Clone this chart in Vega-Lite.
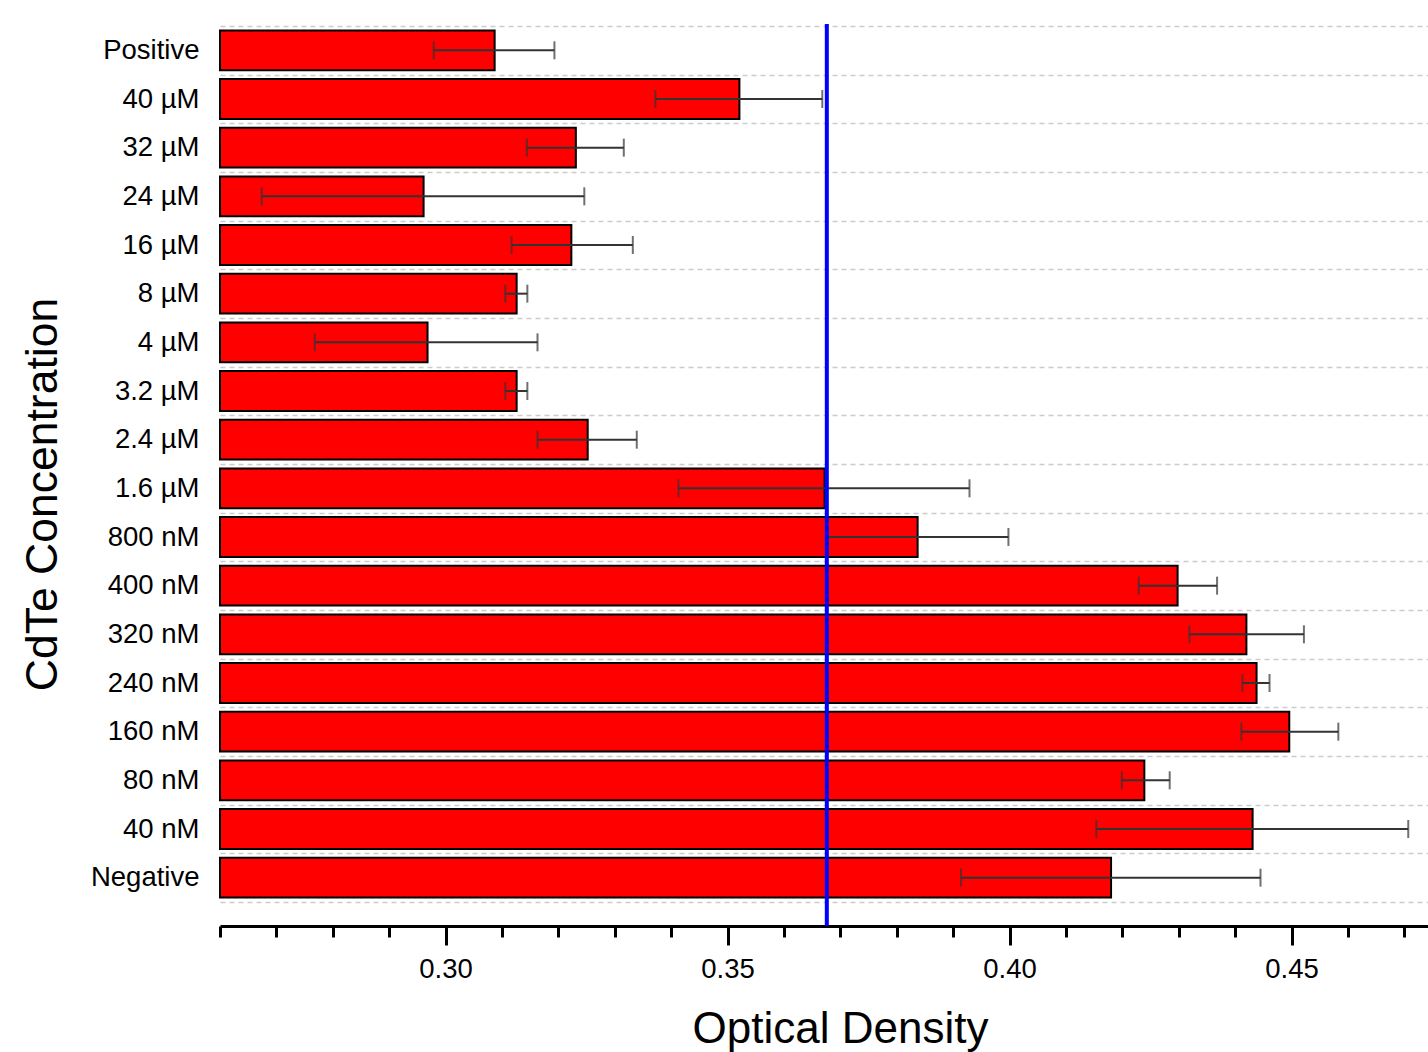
{
  "$schema": "https://vega.github.io/schema/vega-lite/v6.json",
  "autosize": "none",
  "width": 1208,
  "height": 902,
  "padding": {"left": 220, "top": 24, "right": 0, "bottom": 126},
  "background": "white",
  "config": {
    "view": {"stroke": null},
    "font": "Liberation Sans",
    "axis": {"labelFont": "Liberation Sans", "titleFont": "Liberation Sans", "labelColor": "#000000", "titleColor": "#000000", "titleFontWeight": "normal"}
  },
  "datasets": {
    "bars": [
      {"cat": "Positive", "od": 0.3087, "lo": 0.2979, "hi": 0.3193},
      {"cat": "40 µM", "od": 0.3521, "lo": 0.3372, "hi": 0.3668},
      {"cat": "32 µM", "od": 0.3231, "lo": 0.3144, "hi": 0.3316},
      {"cat": "24 µM", "od": 0.2961, "lo": 0.2674, "hi": 0.3246},
      {"cat": "16 µM", "od": 0.3223, "lo": 0.3117, "hi": 0.3332},
      {"cat": "8 µM", "od": 0.3126, "lo": 0.3106, "hi": 0.3145},
      {"cat": "4 µM", "od": 0.2968, "lo": 0.2768, "hi": 0.3163},
      {"cat": "3.2 µM", "od": 0.3126, "lo": 0.3106, "hi": 0.3145},
      {"cat": "2.4 µM", "od": 0.3252, "lo": 0.3163, "hi": 0.3339},
      {"cat": "1.6 µM", "od": 0.3672, "lo": 0.3413, "hi": 0.3929},
      {"cat": "800 nM", "od": 0.3837, "lo": 0.3677, "hi": 0.3998},
      {"cat": "400 nM", "od": 0.4298, "lo": 0.4229, "hi": 0.4368},
      {"cat": "320 nM", "od": 0.4420, "lo": 0.4319, "hi": 0.4522},
      {"cat": "240 nM", "od": 0.4438, "lo": 0.4413, "hi": 0.4461},
      {"cat": "160 nM", "od": 0.4496, "lo": 0.4411, "hi": 0.4583},
      {"cat": "80 nM", "od": 0.4239, "lo": 0.4199, "hi": 0.4284},
      {"cat": "40 nM", "od": 0.4431, "lo": 0.4154, "hi": 0.4707},
      {"cat": "Negative", "od": 0.4180, "lo": 0.3914, "hi": 0.4445}
    ],
    "threshold": [{"od": 0.3676}]
  },
  "layer": [
    {
      "data": {"name": "bars"},
      "mark": {"type": "bar", "fill": "#ff0000", "stroke": "#000000", "strokeWidth": 2, "height": {"band": 0.82}},
      "encoding": {
        "y": {
          "field": "cat", "type": "nominal", "sort": null,
          "scale": {"range": [2, 878], "paddingInner": 0, "paddingOuter": 0},
          "axis": {
            "title": "CdTe Concentration",
            "titleFontSize": 44.5,
            "titleAngle": -90,
            "titleX": -177,
            "titleY": 470,
            "titleAlign": "center",
            "titleBaseline": "middle",
            "labelFontSize": 27.5,
            "labelPadding": 21,
            "ticks": false,
            "tickSize": 0,
            "domain": false,
            "grid": true,
            "tickBand": "extent",
            "gridColor": "#cccccc",
            "gridDash": [5, 4],
            "gridWidth": 1.5
          }
        },
        "x": {
          "field": "od", "type": "quantitative",
          "scale": {"domain": [0.26, 0.4742], "zero": false, "nice": false},
          "axis": {
            "title": "Optical Density",
            "titleFontSize": 44,
            "titleX": 620,
            "titleY": 116,
            "titleAlign": "center",
            "titleBaseline": "alphabetic",
            "values": [0.26, 0.27, 0.28, 0.29, 0.30, 0.31, 0.32, 0.33, 0.34, 0.35, 0.36, 0.37, 0.38, 0.39, 0.40, 0.41, 0.42, 0.43, 0.44, 0.45, 0.46, 0.47],
            "labelExpr": "round(datum.value*100) % 5 == 0 ? format(datum.value, '.2f') : ''",
            "labelFontSize": 27.5,
            "labelPadding": 10,
            "labelFlush": false,
            "tickSize": {"condition": {"test": "round(datum.value*100) % 5 == 0", "value": 19}, "value": 11},
            "tickWidth": 3,
            "tickColor": "#000000",
            "domainColor": "#000000",
            "domainWidth": 3,
            "grid": false
          }
        },
        "x2": {"datum": 0.26}
      }
    },
    {
      "data": {"name": "bars"},
      "mark": {"type": "rule", "color": "#333333", "strokeWidth": 2},
      "encoding": {
        "y": {"field": "cat", "type": "nominal", "sort": null},
        "x": {"field": "lo", "type": "quantitative"},
        "x2": {"field": "hi"}
      }
    },
    {
      "data": {"name": "bars"},
      "mark": {"type": "tick", "color": "#333333", "size": 18, "thickness": 2},
      "encoding": {
        "y": {"field": "cat", "type": "nominal", "sort": null},
        "x": {"field": "lo", "type": "quantitative"}
      }
    },
    {
      "data": {"name": "bars"},
      "mark": {"type": "tick", "color": "#333333", "size": 18, "thickness": 2},
      "encoding": {
        "y": {"field": "cat", "type": "nominal", "sort": null},
        "x": {"field": "hi", "type": "quantitative"}
      }
    },
    {
      "data": {"name": "threshold"},
      "mark": {"type": "rule", "color": "#0000ff", "strokeWidth": 4},
      "encoding": {
        "x": {"field": "od", "type": "quantitative"}
      }
    }
  ]
}
